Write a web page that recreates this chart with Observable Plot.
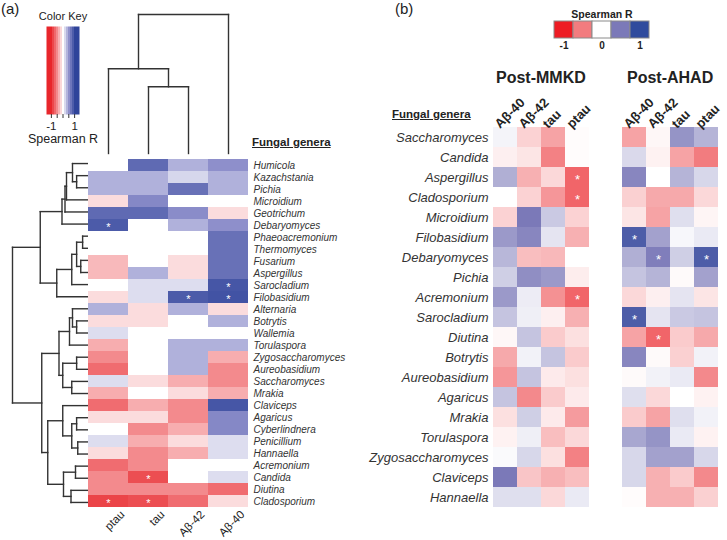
<!DOCTYPE html>
<html><head><meta charset="utf-8">
<script src="https://cdn.jsdelivr.net/npm/d3@7"></script>
<script src="https://cdn.jsdelivr.net/npm/@observablehq/plot@0.6"></script>
<style>
body{margin:0;background:#fff;font-family:"Liberation Sans",Arial,sans-serif;}
#c{position:relative;width:727px;height:540px;overflow:hidden;background:#fff;}
.t{position:absolute;white-space:nowrap;line-height:1;color:#222;}
</style></head><body><div id="c"></div>
<script>
// ---------- Panel (a) data ----------
const genusA = ["Humicola","Kazachstania","Pichia","Microidium","Geotrichum","Debaryomyces","Phaeoacremonium","Thermomyces","Fusarium","Aspergillus","Sarocladium","Filobasidium","Alternaria","Botrytis","Wallemia","Torulaspora","Zygosaccharomyces","Aureobasidium","Saccharomyces","Mrakia","Claviceps","Agaricus","Cyberlindnera","Penicillium","Hannaella","Acremonium","Candida","Diutina","Cladosporium"];
const colsA = ["ptau","tau","Aβ-42","Aβ-40"];
const ptauA = [0,0.35,0.35,-0.15,0.75,0.85,0,0,-0.3,-0.3,0,-0.15,0.35,-0.15,0.15,-0.35,-0.5,-0.65,0.15,-0.35,-0.65,-0.15,0,0.15,-0.15,-0.65,-0.5,-0.5,-0.85];
const tauA  = [0.75,0.35,0.35,0.55,0.75,0,0,0,0,0.35,0.15,0.15,-0.15,-0.15,0,0,0,0,-0.15,0,-0.35,-0.15,-0.5,-0.35,-0.5,-0.5,-0.8,-0.5,-0.8];
const ab42A = [0.35,0.18,0.7,0,0.52,0.35,0,0,-0.15,-0.15,0.15,0.85,0.35,0,0,0.35,0.35,0.35,-0.35,-0.15,-0.5,-0.5,-0.35,-0.15,-0.35,0,0,-0.5,-0.65];
const ab40A = [0.5,0.35,0.35,0,-0.15,0.5,0.7,0.7,0.7,0.7,0.88,0.9,-0.15,0.35,0,0.35,-0.35,-0.5,-0.5,-0.35,0.88,0.55,0.55,0.15,0.15,0,0.15,-0.65,-0.15];
const sigA = [["Debaryomyces","ptau"],["Sarocladium","Aβ-40"],["Filobasidium","Aβ-42"],["Filobasidium","Aβ-40"],["Candida","tau"],["Cladosporium","ptau"],["Cladosporium","tau"]];
// dendrograms: [height, left, right]
const rowTreeA = [1.0,
  [0.63,
    [0.34,[0.30,[0.28,[0.2,"Humicola",[0.145,"Kazachstania","Pichia"]],"Microidium"],"Geotrichum"],"Debaryomyces"],
    [0.41,[0.21,[0.145,[0.065,"Phaeoacremonium","Thermomyces"],[0.09,"Fusarium","Aspergillus"]],"Sarocladium"],"Filobasidium"]],
  [0.61,
    [0.38,[0.24,[0.2,"Alternaria",[0.145,"Botrytis","Wallemia"]],"Torulaspora"],[0.33,[0.145,"Zygosaccharomyces","Aureobasidium"],[0.21,"Saccharomyces","Mrakia"]]],
    [0.53,[0.33,"Claviceps",[0.21,[0.145,"Agaricus","Cyberlindnera"],[0.13,"Penicillium","Hannaella"]]],[0.32,[0.16,"Acremonium","Candida"],[0.22,"Diutina","Cladosporium"]]]]];
const colTreeA = [1.0,[0.61,"ptau",[0.48,"tau","Aβ-42"]],"Aβ-40"];
const keyTicksA = [-1,-0.5,0,0.5,1];
const colorDomain = [-1,-0.5,0,0.5,1];
const colorsA = ["#e8262b","#f38a8d","#ffffff","#8e8fcb","#2f449a"];

// ---------- Panel (b) data ----------
const genusB = ["Saccharomyces","Candida","Aspergillus","Cladosporium","Microidium","Filobasidium","Debaryomyces","Pichia","Acremonium","Sarocladium","Diutina","Botrytis","Aureobasidium","Agaricus","Mrakia","Torulaspora","Zygosaccharomyces","Claviceps","Hannaella"];
const colsB = ["Aβ-40","Aβ-42","tau","ptau"];
const mmkdAb40 = [0.04,-0.06,0.3,0,-0.17,0.38,0.27,0.18,0.38,0.22,-0.03,-0.33,-0.4,0.22,-0.12,-0.05,0.02,0.5,0.12];
const mmkdAb42 = [-0.17,-0.1,-0.3,-0.17,0.5,0.45,-0.25,0.42,0.07,0.06,0.22,0.05,0.22,-0.45,0.18,0.06,0.15,-0.22,0.12];
const mmkdTau  = [-0.35,-0.48,-0.15,-0.4,0.2,0.1,-0.27,0.38,-0.42,-0.06,-0.2,0.22,-0.08,-0.2,-0.08,-0.25,-0.12,-0.3,-0.15];
const mmkdPtau = [-0.01,-0.01,-0.62,-0.62,-0.17,-0.3,0,-0.07,-0.62,-0.3,-0.12,-0.2,-0.12,-0.08,-0.38,-0.15,-0.48,-0.25,0.08];
const ahadAb40 = [-0.35,0.14,0.45,-0.18,-0.1,0.8,0.3,0.22,-0.15,0.8,-0.35,0.45,-0.02,0.12,-0.2,0.33,0.15,0.15,-0.01];
const ahadAb42 = [-0.03,-0.05,0,-0.33,-0.35,0.35,0.48,0.28,-0.06,0.1,-0.62,-0.02,0.05,-0.15,-0.35,0.4,0.35,-0.3,-0.3];
const ahadTau  = [0.4,-0.35,0.28,-0.33,0.12,0.03,0.18,-0.02,0.1,0.2,-0.2,-0.18,0.08,0,0.12,0.08,0.35,-0.2,-0.3];
const ahadPtau = [0.28,-0.5,0.15,-0.15,-0.04,0.08,0.8,0.35,-0.1,0.22,-0.33,0.05,-0.45,-0.05,0.05,-0.05,0.15,-0.45,-0.18];
const sigMMKD = [["Aspergillus","ptau"],["Cladosporium","ptau"],["Acremonium","ptau"]];
const sigAHAD = [["Filobasidium","Aβ-40"],["Debaryomyces","Aβ-42"],["Debaryomyces","ptau"],["Sarocladium","Aβ-40"],["Diutina","Aβ-42"]];
const legendValsB = [-1,-0.5,0,0.5,1];
const colorsB = ["#ed1c24","#f27c7f","#ffffff","#7b79b8","#2f4b9d"];

// ---------- helpers ----------
const FONT = '"Liberation Sans",Arial,sans-serif';
const C = document.getElementById("c");
function place(el, left, top){ el.style.position="absolute"; el.style.left=left+"px"; el.style.top=top+"px"; C.appendChild(el); }
function label(html, left, top, css){ const d=document.createElement("div"); d.className="t"; d.innerHTML=html; d.style.cssText+=css||""; place(d,left,top); }
const style = (fs) => ({background:"transparent", overflow:"visible", fontFamily:FONT, fontSize:fs+"px"});
function longTable(genera, cols, arrays){ const out=[]; genera.forEach((g,i)=>cols.forEach((c,j)=>out.push({genus:g,col:c,r:arrays[j][i]}))); return out; }
function dendroSegments(tree, order){
  const idx = new Map(order.map((d,i)=>[d,i])); const segs=[];
  (function walk(n){
    if (typeof n === "string") return {p: idx.get(n), h: 0};
    const [h,a,b] = n; const A = walk(a), B = walk(b);
    segs.push({p1:A.p,h1:A.h,p2:A.p,h2:h},{p1:B.p,h1:B.h,p2:B.p,h2:h},{p1:A.p,h1:h,p2:B.p,h2:h});
    return {p:(A.p+B.p)/2, h};
  })(tree);
  return segs;
}
const colorA = {type:"linear", domain:colorDomain, range:colorsA, interpolate:"rgb", clamp:true};
const colorB = {type:"linear", domain:colorDomain, range:colorsB, interpolate:"rgb", clamp:true};

// ---------- Panel (a) ----------
label("(a)", 1, 1, "font-size:15px;");
// color key
place(Plot.plot({
  width:120, height:150, marginLeft:46, marginRight:41, marginTop:26, marginBottom:36,
  style:style(11.5),
  x:{domain:[-1.42,1.42]}, y:{domain:[0,1], axis:null}, color:colorA,
  marks:[
    Plot.raster({fill:(x,y)=>x, x1:-1.42, x2:1.42, y1:0, y2:1, width:17, height:1, imageRendering:"pixelated"}),
    Plot.axisX({ticks:keyTicksA, tickSize:4, tickPadding:3, stroke:"#333", fill:"#222",
      tickFormat:d=> d===-1 ? "-1" : d===1 ? "1" : "", label:null}),
    Plot.text(["Color Key"], {frameAnchor:"top", dy:-7, lineAnchor:"bottom", fontSize:11, fill:"#222"}),
    Plot.text(["Spearman R"], {frameAnchor:"bottom", dy:28, fontSize:12.5, fill:"#222"})
  ]
}), 0, 0);

// top (column) dendrogram
place(Plot.plot({
  width:160, height:157, margin:0, style:style(10),
  x:{domain:[-0.5,3.5], range:[0,160], axis:null}, y:{domain:[0,1], range:[153,14], axis:null},
  marks:[Plot.link(dendroSegments(colTreeA, colsA), {x1:"p1", y1:"h1", x2:"p2", y2:"h2", stroke:"#333", strokeWidth:1.4, strokeLinecap:"square"})]
}), 88, 0);

// left (row) dendrogram
place(Plot.plot({
  width:88, height:351, margin:0, style:style(10),
  x:{domain:[1,0], range:[12,87], axis:null}, y:{domain:[-0.5,genusA.length-0.5], range:[0,351], axis:null},
  marks:[Plot.link(dendroSegments(rowTreeA, genusA), {x1:"h1", y1:"p1", x2:"h2", y2:"p2", stroke:"#333", strokeWidth:1.4, strokeLinecap:"square"})]
}), 0, 157);

// heatmap (a)
const dataA = longTable(genusA, colsA, [ptauA, tauA, ab42A, ab40A]);
place(Plot.plot({
  width:160+120, height:351+32, marginLeft:0, marginTop:0, marginRight:120, marginBottom:32,
  style:style(10),
  x:{domain:colsA, padding:0, axis:null}, y:{domain:genusA, padding:0, axis:null}, color:colorA,
  marks:[
    Plot.cell(dataA, {x:"col", y:"genus", fill:"r"}),
    Plot.text(sigA, {x:d=>d[1], y:d=>d[0], text:()=>"*", fill:"white", fontSize:11, dy:2}),
    Plot.axisY({anchor:"right", tickSize:0, tickPadding:5, fontStyle:"italic", fill:"#333", label:null}),
    Plot.text(colsA, {x:d=>d, frameAnchor:"bottom", rotate:-45, textAnchor:"end", lineAnchor:"top", dx:11, dy:1, fontSize:11.5, fill:"#222"})
  ]
}), 88, 157);
label("Fungal genera", 252, 137, "font-size:11.5px;font-weight:bold;text-decoration:underline;");

// ---------- Panel (b) ----------
label("(b)", 395, 1, "font-size:15px;");
// legend
place(Plot.plot({
  width:97, height:51, marginLeft:0, marginRight:0, marginTop:20, marginBottom:14,
  style:style(10),
  x:{domain:legendValsB, padding:0}, color:colorB,
  marks:[
    Plot.cell(legendValsB, {x:d=>d, fill:d=>d, stroke:"#8a8a8a", strokeWidth:1}),
    Plot.axisX({anchor:"bottom", tickSize:0, tickPadding:3, fontWeight:"bold", fill:"#222",
      tickFormat:d=> d===-1 ? "-1" : d===0 ? "0" : d===1 ? "1" : "", label:null}),
    Plot.text(["Spearman R"], {frameAnchor:"top", dy:-4, lineAnchor:"bottom", fontSize:10.5, fontWeight:"bold", fill:"#222"})
  ]
}), 553, 1);

label("Post-MMKD", 496, 70, "font-size:16px;font-weight:bold;");
label("Post-AHAD", 627, 70, "font-size:16px;font-weight:bold;");
label("Fungal genera", 392, 109, "font-size:11.5px;font-weight:bold;text-decoration:underline;");

function panelB(arrays, sig, showY){
  const data = longTable(genusB, colsB, arrays);
  const ml = showY ? 132 : 5;
  const marks = [
    Plot.cell(data, {x:"col", y:"genus", fill:"r"}),
    Plot.text(sig, {x:d=>d[1], y:d=>d[0], text:()=>"*", fill:"white", fontSize:13, dy:2}),
    Plot.text(colsB, {x:d=>d, frameAnchor:"top", rotate:-45, textAnchor:"start", dx:-12, dy:-5, fontSize:13, fontWeight:"bold", fill:"#222"})
  ];
  if (showY) marks.push(Plot.axisY({anchor:"left", tickSize:0, tickPadding:4, fontStyle:"italic", fill:"#333", label:null}));
  return Plot.plot({
    width:ml+97+4, height:42+380+4, marginLeft:ml, marginRight:4, marginTop:42, marginBottom:4,
    style:style(13),
    x:{domain:colsB, padding:0, axis:null}, y:{domain:genusB, padding:0, axis:null}, color:colorB,
    marks
  });
}
place(panelB([mmkdAb40, mmkdAb42, mmkdTau, mmkdPtau], sigMMKD, true), 360, 85);
place(panelB([ahadAb40, ahadAb42, ahadTau, ahadPtau], sigAHAD, false), 616, 85);
</script></body></html>
